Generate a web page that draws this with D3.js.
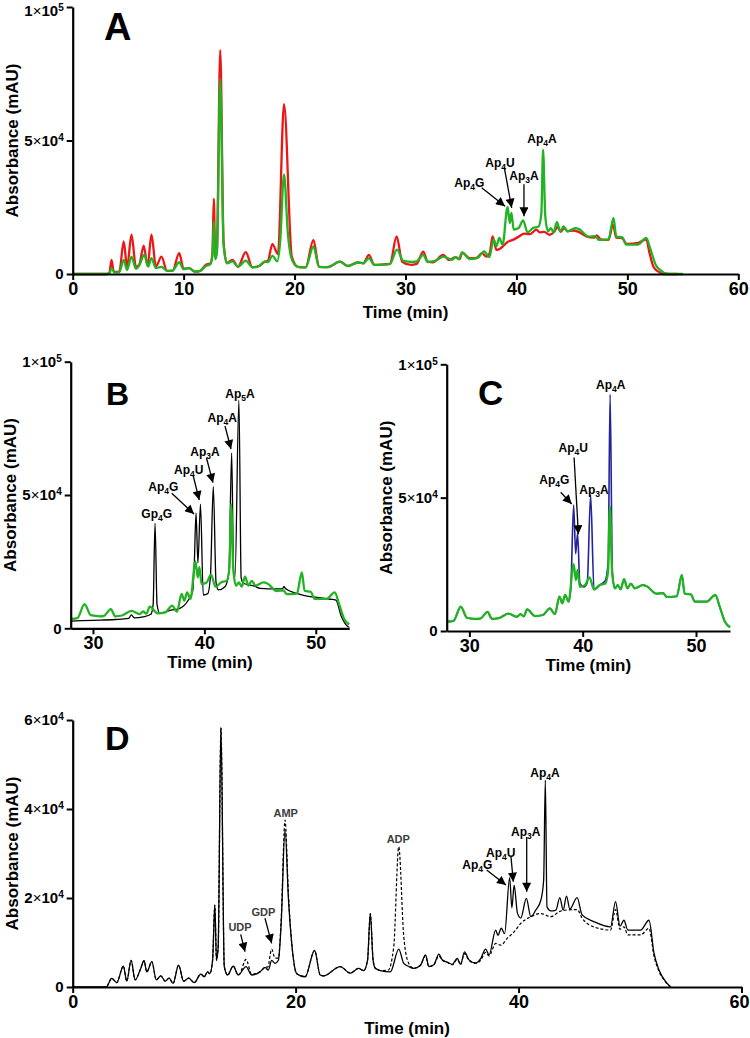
<!DOCTYPE html>
<html><head><meta charset="utf-8">
<script src="https://cdn.jsdelivr.net/npm/d3@7"></script>
<style>
body{margin:0;background:#fff}
svg{display:block}
text{font-family:"Liberation Sans",Arial,sans-serif;font-weight:bold}
</style>
</head><body>
<svg id="chart" width="750" height="1038"></svg>
<script>
// ---------------- DATA ----------------
// Panel A: [time (min), absorbance (mAU)]
const redA = [[0,0],[3.0,0],[3.3,300],[3.5,5300],[3.7,800],[4.2,900],[4.6,12200],[4.9,2500],[5.3,14700],[5.7,2700],[6.0,3500],[6.4,10600],[6.75,3000],[7.1,14700],[7.5,2800],[8.0,6500],[8.5,1200],[9.0,1200],[9.6,7800],[10.0,2000],[10.5,2200],[11.0,900],[11.5,1200],[12.0,3400],[12.4,3900],[12.6,8000],[12.72,28200],[12.85,6000],[13.0,9000],[13.3,83800],[13.6,12000],[13.9,4100],[14.4,5300],[14.9,2700],[15.6,8200],[16.2,2500],[16.8,3000],[17.3,4600],[17.6,5000],[18.0,11200],[18.5,7500],[19.05,63600],[19.75,6500],[20.3,2700],[21.0,2500],[21.7,12800],[22.2,2700],[23.0,2600],[24.1,4600],[24.8,3000],[25.7,4300],[26.2,4000],[26.7,7200],[27.2,3400],[28.0,3600],[28.6,3800],[29.2,14100],[29.7,4600],[30.5,3400],[31.0,3800],[31.6,8400],[32.0,4600],[32.5,4400],[33.4,7200],[33.9,5200],[34.5,6300],[34.9,5600],[35.1,8000],[35.8,5900],[36.4,6000],[36.9,7800],[37.3,6500],[37.6,8000],[37.85,14100],[38.2,9000],[38.6,9700],[39.2,12000],[39.7,12800],[40.2,14000],[40.7,15100],[41.2,14900],[41.8,16600],[42.1,15600],[42.5,15800],[43.0,14700],[43.4,15800],[43.7,17600],[44.0,15800],[44.3,17200],[44.6,16000],[45.1,16300],[45.6,15800],[46.3,14100],[47.0,13600],[47.25,14500],[47.6,13000],[48.3,12800],[48.7,18500],[49.0,13600],[49.5,13400],[49.95,11300],[51.0,11700],[51.7,13000],[52.0,7800],[52.35,2700],[52.8,900],[53.3,0],[54.5,0]];

const greenA = [[0,0],[3.0,0],[3.3,200],[3.5,2100],[3.8,600],[4.2,700],[4.6,5300],[4.9,1500],[5.3,6500],[5.7,2000],[6.0,3200],[6.45,7200],[6.8,2800],[7.1,5900],[7.5,2200],[8.0,2700],[8.5,1200],[9.0,1300],[9.6,4400],[10.0,1800],[10.5,2200],[11.0,900],[11.5,1200],[12.0,3000],[12.4,3600],[12.6,7000],[12.72,19700],[12.85,5500],[13.0,8000],[13.3,73100],[13.6,11000],[13.9,4000],[14.4,4700],[14.9,2700],[15.6,5000],[16.2,2500],[16.8,3000],[17.3,4600],[17.6,4500],[18.0,6800],[18.45,4700],[18.7,12000],[19.05,37300],[19.4,15000],[19.75,5500],[20.3,2700],[21.0,2500],[21.7,10300],[22.2,2700],[23.0,2600],[24.1,4600],[24.8,3000],[25.7,4300],[26.2,4000],[26.7,5900],[27.2,3400],[28.05,3500],[28.6,3800],[29.24,9100],[29.8,4900],[30.65,4500],[31.0,4700],[31.6,7200],[32.0,4500],[32.6,4800],[33.45,6500],[34.2,5300],[34.5,6300],[34.8,5500],[35.1,8100],[35.8,5600],[36.5,6000],[37.1,8500],[37.55,6300],[37.95,12900],[38.2,10400],[38.45,13500],[38.75,11000],[39.2,25100],[39.4,19100],[39.55,22900],[39.75,16600],[40.2,17200],[40.6,20100],[41.0,15600],[41.5,17200],[42.0,17800],[42.25,22900],[42.4,46600],[42.6,21700],[42.85,16000],[43.1,17200],[43.35,15600],[43.65,19400],[43.95,16000],[44.25,17800],[44.6,16000],[45.3,17200],[45.65,16800],[46.5,14000],[47.1,14200],[47.4,12800],[48.3,13000],[48.75,21000],[49.0,14000],[49.55,13700],[49.9,11000],[50.95,11000],[51.7,13500],[52.1,9000],[52.55,3500],[53.0,1400],[53.5,200],[54.0,0],[55.0,0]];

// Panel B: black trace (standards)
const blackB = [[28,2700],[30,3000],[32,3300],[33.2,3700],[33.45,5000],[33.7,3900],[34.5,4300],[35.2,5300],[35.4,9000],[35.57,39400],[35.75,9000],[36.0,5600],[37.0,6800],[37.8,7500],[38.56,10600],[38.95,14000],[39.1,25000],[39.25,43300],[39.42,24500],[39.65,46600],[39.9,12500],[40.3,13000],[40.55,20000],[40.8,53100],[41.05,17000],[41.25,14400],[41.85,15600],[42.2,21000],[42.45,65800],[42.62,22000],[42.75,19400],[43.1,85600],[43.3,19000],[43.5,16900],[44.5,15800],[45.0,15000],[46.5,14800],[47.0,14800],[47.15,15600],[47.3,14800],[48.3,13100],[49.2,12100],[50.3,11500],[51.3,10900],[51.8,10600],[52.3,4400],[52.9,600],[53,400]];

// Panel C: blue trace (spiked sample) around the Ap region; elsewhere identical to green
const blueApC = [[38.95,16000],[39.2,47200],[39.38,29000],[39.55,36600],[39.75,18000],[40.1,16500],[40.4,18000],[40.7,51000],[41.0,15500],[41.5,17200],[42.0,19000],[42.25,26000],[42.42,88700],[42.62,22000],[42.85,16000]];

// Panel D: solid and dashed traces
const solidD = [[0,0],[3.0,0],[3.5,1950],[3.95,1000],[4.55,4700],[4.85,1300],[5.24,6000],[5.6,1600],[6.05,3800],[6.4,5900],[6.65,3400],[7.1,5700],[7.5,1600],[7.9,2500],[8.3,1300],[8.65,2000],[9.0,800],[9.5,4900],[9.95,1300],[10.4,2000],[10.9,1000],[11.5,2900],[11.8,2300],[12.1,3400],[12.3,3000],[12.55,6000],[12.75,18400],[12.9,6000],[13.05,9000],[13.3,58300],[13.6,4600],[13.9,2700],[14.4,4700],[14.85,2700],[15.55,4600],[16.05,2700],[16.8,3400],[17.25,4400],[17.55,3800],[17.85,6000],[18.15,5300],[18.45,6000],[18.7,14000],[19.05,35500],[19.35,20000],[19.65,9800],[20.1,3000],[20.85,2300],[21.7,8200],[22.2,2700],[22.5,2500],[24.0,4600],[24.9,3100],[25.65,4200],[26.1,3700],[26.45,6000],[26.7,16500],[26.95,6000],[27.15,4200],[27.6,3700],[28.5,3400],[29.25,8500],[29.7,5300],[30.15,4600],[30.6,4200],[31.2,4900],[31.65,7200],[31.95,4600],[32.4,5000],[32.85,7400],[33.15,6100],[33.6,5600],[34.05,5100],[34.5,6400],[34.8,5100],[35.15,7900],[35.55,6100],[36.15,5400],[36.6,6400],[37.05,8500],[37.35,7200],[37.95,12800],[38.15,11600],[38.45,13200],[38.75,12000],[39.2,24600],[39.4,17800],[39.6,22900],[39.9,16600],[40.2,15500],[40.7,19900],[41.1,15800],[41.55,17300],[42.0,19500],[42.25,24000],[42.4,46500],[42.55,18000],[42.9,17100],[43.35,17300],[43.7,20100],[44.0,17300],[44.3,20400],[44.6,17500],[45.25,20100],[45.7,16200],[46.75,14700],[48.25,13500],[48.7,19200],[49.1,13700],[49.45,15000],[49.8,12800],[50.95,12800],[51.7,15000],[52.15,7600],[52.6,3800],[53.2,1200],[53.65,0]];

const dashedDTail = [[15.0,3000],[15.55,6200],[16.05,2900],[16.8,3400],[17.25,4400],[17.5,4500],[17.85,8500],[18.15,6500],[18.45,6500],[18.7,15000],[19.05,37500],[19.35,21000],[19.65,9800],[20.1,3000],[20.85,2300],[21.7,8200],[22.2,2700],[22.5,2500],[24.0,4600],[24.9,3100],[25.65,4200],[26.1,3700],[26.45,6000],[26.7,16500],[26.95,6000],[27.15,4200],[27.6,3700],[28.3,3800],[28.8,9000],[29.25,31500],[29.7,11300],[30.15,5300],[30.6,4200],[31.2,4900],[31.65,7000],[31.95,4600],[32.4,5000],[32.85,7000],[33.15,6000],[33.6,5500],[34.05,5000],[34.5,6200],[34.8,5100],[35.15,7500],[35.55,6000],[36.15,5300],[36.6,6000],[37.05,7800],[37.35,7000],[37.95,9800],[38.4,9400],[39.0,11000],[39.6,12400],[40.2,14300],[41.1,15800],[42.0,16500],[42.9,15800],[43.7,17000],[44.3,17300],[45.25,17400],[45.7,15500],[46.75,13500],[48.25,12800],[48.7,17400],[49.1,13000],[49.45,13500],[49.8,11700],[50.95,11700],[51.7,13200],[52.15,7000],[52.6,3500],[53.2,1100],[53.65,0]];

// Tick values
const ticksXA = [0,10,20,30,40,50,60];
const ticksXBC = [30,40,50];
const ticksXD = [0,20,40,60];
const ticksY1e5 = [0,50000,100000];
const ticksYD = [0,20000,40000,60000];

// Annotations: [label, subscript, suffix, t, value, arrowFrom, arrowTo]
const annA = [
  ["Ap","4","A",42.31,49060,null,null],
  ["Ap","4","U",38.52,40200,[38.9,40000],[39.57,24800]],
  ["Ap","4","G",35.75,32600,[36.87,32300],[38.97,25400]],
  ["Ap","3","A",40.68,35100,[40.68,33600],[40.68,21600]]
];
const annB = [
  ["Gp","4","G",35.72,41560,null,null],
  ["Ap","4","G",36.31,51500,[37.07,50640],[39.07,42870]],
  ["Ap","4","U",38.59,58060,[38.98,57500],[39.54,48120]],
  ["Ap","3","A",40.06,64630,[40.19,63880],[40.77,54610]],
  ["Ap","4","A",41.61,77200,[41.85,75880],[42.39,67250]],
  ["Ap","5","A",43.2,86400,null,null]
];
const annC = [
  ["Ap","4","A",42.47,90740,null,null],
  ["Ap","4","U",39.17,66930,[39.24,65050],[39.62,36280]],
  ["Ap","4","G",37.5,55120,[38.06,52000],[39.03,47620]],
  ["Ap","3","A",41.0,51370,null,null]
];
const annD = [
  ["AMP","","",19.11,38090,null,null,"gray"],
  ["UDP","","",15.01,12580,[15.07,11840],[15.46,7930],"gray"],
  ["GDP","","",17.1,15960,[17.25,15440],[17.85,9820],"gray"],
  ["ADP","","",29.21,32250,null,null,"gray"],
  ["Ap","4","A",42.37,47080,null,null],
  ["Ap","3","A",40.64,33930,[40.73,33710],[40.73,21420]],
  ["Ap","4","U",38.4,29210,[39.32,29210],[39.53,23660]],
  ["Ap","4","G",36.3,26520,[37.14,26290],[38.87,22920]]
];

// ---------------- DRAWING ----------------
const svg = d3.select("#chart");
const W = 750;
const defs = svg.append("defs");
defs.append("marker").attr("id","arrow").attr("viewBox","0 0 10 10")
  .attr("refX",10).attr("refY",5).attr("markerWidth",10).attr("markerHeight",9)
  .attr("markerUnits","userSpaceOnUse").attr("orient","auto")
  .append("path").attr("d","M0,0L10,5L0,10Z").attr("fill","#000");

function yFormat(sel, y){
  sel.selectAll(".tick text").each(function(d){
    const t = d3.select(this);
    if (d === 0) return;
    t.text(null);
    if (y(d) < 12) t.attr("dy","0.55em");
    const e = Math.floor(Math.log10(d) + 1e-9);
    const m = Math.round(d / Math.pow(10, e));
    t.append("tspan").text(m);
    t.append("tspan").text("\u00d7").style("font-weight","normal");
    t.append("tspan").text("10");
    t.append("tspan").attr("dy","-0.5em").style("font-size","10px").text(e);
  });
}

function panel(cfg){
  const g = svg.append("g");
  const x = d3.scaleLinear().domain(cfg.xd).range(cfg.xr);
  const y = d3.scaleLinear().domain(cfg.yd).range(cfg.yr);
  const line = d3.line().x(d=>x(d[0])).y(d=>y(d[1])).curve(d3.curveMonotoneX);

  cfg.series.forEach(s=>{
    const p = g.append("path").datum(s.data.filter(d=>d[0]>=cfg.xd[0]-1e-9 && d[0]<=cfg.xd[1]+1e-9))
      .attr("d",line).attr("fill","none").attr("stroke",s.color)
      .attr("stroke-width",s.width).attr("stroke-linejoin","round");
    if (s.dash) p.attr("stroke-dasharray",s.dash);
  });

  const xa = g.append("g").attr("transform",`translate(0,${cfg.yr[0]})`)
    .call(d3.axisBottom(x).tickValues(cfg.xt).tickSize(6).tickSizeOuter(0).tickPadding(2).tickFormat(d3.format("d")));
  const ya = g.append("g").attr("transform",`translate(${cfg.xr[0]},0)`)
    .call(d3.axisLeft(y).tickValues(cfg.yt).tickSize(6).tickSizeOuter(0).tickPadding(3));
  [xa,ya].forEach(a=>{
    a.select(".domain").attr("stroke","#000").attr("stroke-width",2.2);
    a.selectAll(".tick line").attr("stroke","#000").attr("stroke-width",2);
  });
  xa.selectAll(".tick text").attr("font-size",18).attr("fill","#000").attr("font-family",null)
    .attr("dx", d => (x(d) + 11 > W ? W - 11 - x(d) : 0));
  ya.selectAll(".tick text").attr("font-size",15).attr("fill","#000").attr("font-family",null);
  ya.call(yFormat, y);

  // axis titles
  g.append("text").attr("transform",`translate(${cfg.xr[0]-61},${(cfg.yr[0]+cfg.yr[1])/2}) rotate(-90)`)
    .attr("text-anchor","middle").attr("dy","0.35em").attr("font-size",17).text("Absorbance (mAU)");
  g.append("text").attr("x",(cfg.xr[0]+cfg.xr[1])/2).attr("y",cfg.yr[0]+cfg.titleDy)
    .attr("text-anchor","middle").attr("font-size",17).text("Time (min)");

  // panel letter
  g.append("text").attr("x",cfg.letter[1]).attr("y",cfg.letter[2]).attr("font-size",cfg.letter[3]).text(cfg.letter[0]);

  // annotations
  cfg.ann.forEach(a=>{
    const gray = a[7]==="gray";
    const t = g.append("text").attr("x",x(a[3])).attr("y",y(a[4])).attr("text-anchor","middle")
      .attr("font-size",gray?11:12).attr("fill",gray?"#3c3c3c":"#000");
    t.append("tspan").text(a[0]);
    if (a[1]) {
      t.append("tspan").attr("dy",3).attr("font-size",8.5).text(a[1]);
      t.append("tspan").attr("dy",-3).text(a[2]);
    }
    if (a[5]) {
      g.append("line").attr("x1",x(a[5][0])).attr("y1",y(a[5][1]))
        .attr("x2",x(a[6][0])).attr("y2",y(a[6][1]))
        .attr("stroke","#000").attr("stroke-width",1.3).attr("marker-end","url(#arrow)");
    }
  });
}

const green = "#22b322", red = "#ee1515", blue = "#23239a";

// blue = green outside the Ap window, explicit blue points inside it
const blueC = greenA.filter(d=>d[0]<=38.75 || d[0]>=43.1).concat(blueApC).sort((a,b)=>a[0]-b[0]);
const dashedD = solidD.filter(d=>d[0]<15.0).concat(dashedDTail);

panel({xd:[0,60], xr:[72.7,738.3], yd:[0,100000], yr:[274,7], xt:ticksXA, yt:ticksY1e5,
  series:[{data:redA,color:red,width:2.3},{data:greenA,color:green,width:2.3}],
  ann:annA, letter:["A",104,40,38], titleDy:44});

panel({xd:[28,53], xr:[70.7,349.2], yd:[0,100000], yr:[628.3,361.7], xt:ticksXBC, yt:ticksY1e5,
  series:[{data:blackB,color:"#000",width:1.3},{data:greenA,color:green,width:2.3}],
  ann:annB, letter:["B",106,405,32], titleDy:40});

panel({xd:[28,53], xr:[446.7,730], yd:[0,100000], yr:[631,364.3], xt:ticksXBC, yt:ticksY1e5,
  series:[{data:blueC,color:blue,width:1.6},{data:greenA,color:green,width:2.3}],
  ann:annC, letter:["C",478,405,35], titleDy:40});

panel({xd:[0,60], xr:[72.7,741.5], yd:[0,60000], yr:[987,720], xt:ticksXD, yt:ticksYD,
  series:[{data:dashedD,color:"#000",width:1.2,dash:"3,2"},{data:solidD,color:"#000",width:1.3}],
  ann:annD, letter:["D",105,750,34], titleDy:47});
</script>
</body></html>
